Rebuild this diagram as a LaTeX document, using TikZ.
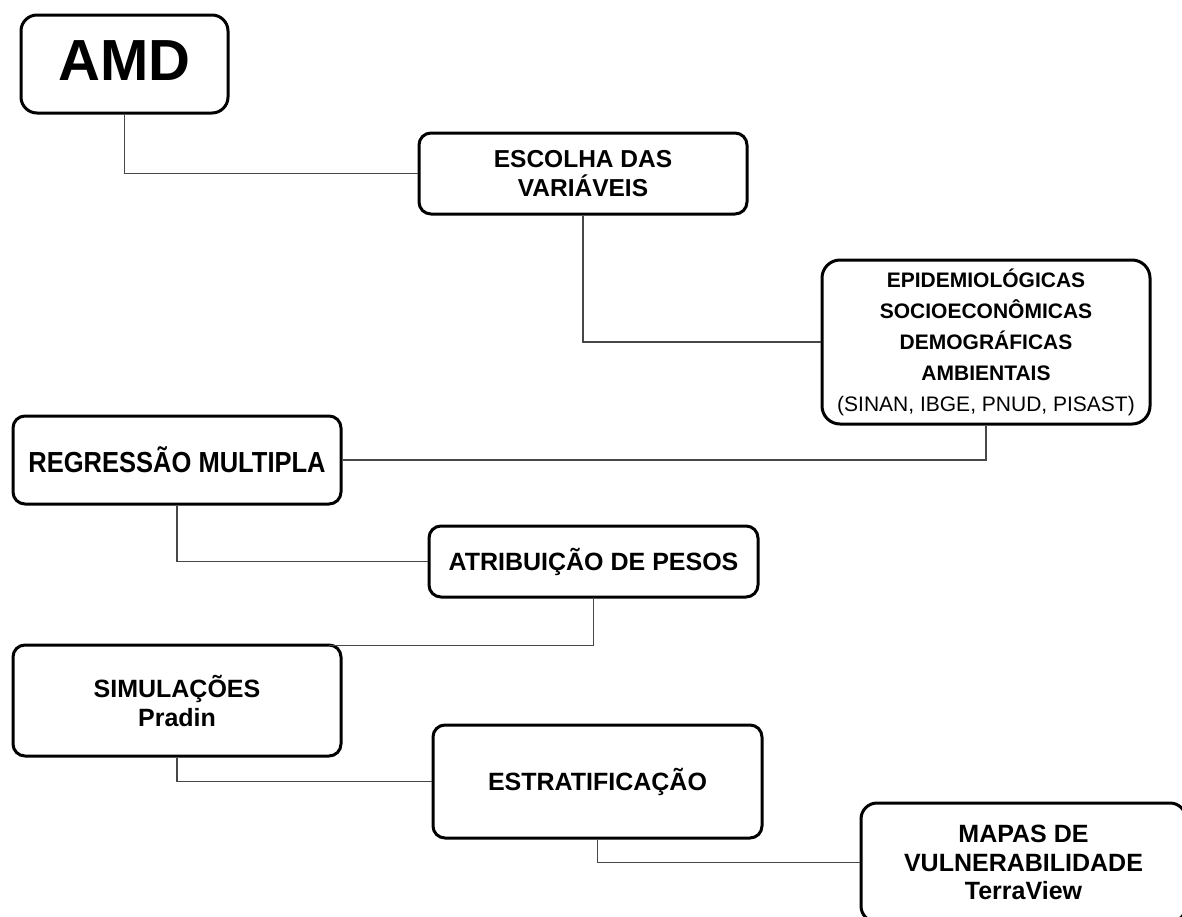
\documentclass[tikz,border=0pt]{standalone}
\usepackage{fontspec}
\setmainfont{Liberation Sans}
\newfontfamily\condensedfont[FakeStretch=0.88]{Liberation Sans}

\begin{document}
\begin{tikzpicture}[x=1pt,y=-1pt,
  box/.style={draw=black, line width=3pt, rounded corners=12pt, inner sep=0pt,
    align=center, font=\bfseries\fontsize{25}{29}\selectfont},
  link/.style={draw=black!72, line width=1.3pt}]
\useasboundingbox (0,0) rectangle (1182,916);

\node[box, minimum width=207pt, minimum height=98pt, rounded corners=16pt,
  font=\bfseries\fontsize{58}{60}\selectfont, text height=42pt, text depth=10pt]
  (amd) at (124.5,64) {AMD};

\node[box, minimum width=328pt, minimum height=81pt,
  font=\bfseries\fontsize{24.5}{29}\selectfont]
  (escolha) at (583,173.5) {ESCOLHA DAS\\VARIÁVEIS};

\node[box, minimum width=328pt, minimum height=164pt, rounded corners=18pt,
  font=\bfseries\fontsize{21}{31}\selectfont]
  (epi) at (986,342) {EPIDEMIOLÓGICAS\\SOCIOECONÔMICAS\\DEMOGRÁFICAS\\AMBIENTAIS\\{\mdseries (SINAN, IBGE, PNUD, PISAST)}};

\node[box, minimum width=328pt, minimum height=88pt,
  font=\condensedfont\bfseries\fontsize{29}{31}\selectfont]
  (reg) at (177,460) {REGRESSÃO MULTIPLA};

\node[box, minimum width=329pt, minimum height=71pt]
  (atrib) at (593.5,561.5) {ATRIBUIÇÃO DE PESOS};

\node[box, minimum width=328pt, minimum height=111pt]
  (simul) at (177,700.5) {SIMULAÇÕES\\Pradin};

\node[box, minimum width=329pt, minimum height=113pt]
  (estrat) at (597.5,781.5) {ESTRATIFICAÇÃO};

\node[box, minimum width=325pt, minimum height=119pt, rounded corners=16pt,
  font=\bfseries\fontsize{25}{28.5}\selectfont]
  (mapas) at (1023.5,862.5) {MAPAS DE\\VULNERABILIDADE\\TerraView};

\draw[link] (amd.south) |- (escolha.west);
\draw[link] (escolha.south) |- (epi.west);
\draw[link] (epi.south) |- (reg.east);
\draw[link] (reg.south) |- (atrib.west);
\draw[link] (atrib.south) |- ([xshift=-14pt,yshift=-2pt]simul.north east);
\draw[link] (simul.south) |- (estrat.west);
\draw[link] (estrat.south) |- (mapas.west);
\end{tikzpicture}
\end{document}
